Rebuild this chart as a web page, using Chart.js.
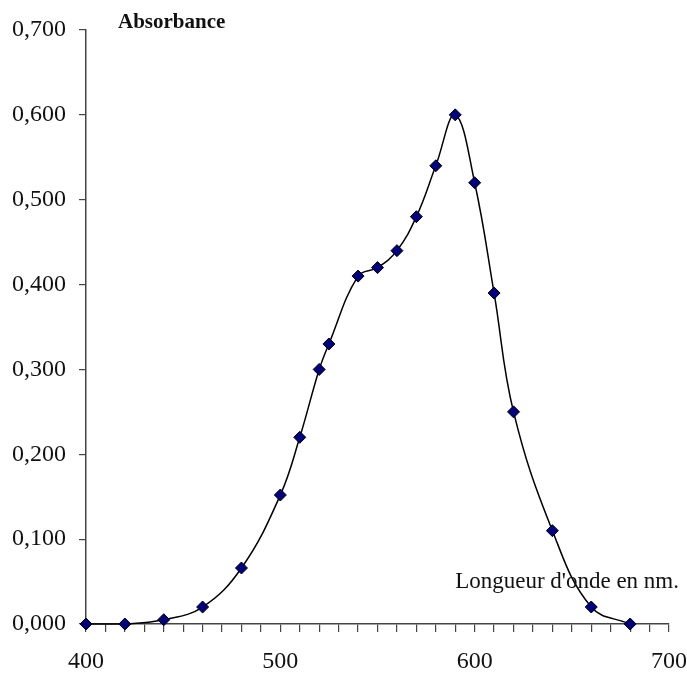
<!DOCTYPE html>
<html>
<head>
<meta charset="utf-8">
<script src="https://cdn.jsdelivr.net/npm/chart.js@4/dist/chart.umd.min.js"></script>
<style>
  html, body { margin: 0; padding: 0; background: #ffffff; }
  #wrap { position: relative; width: 687px; height: 676px; }
</style>
</head>
<body>
<div id="wrap"><canvas id="c" width="687" height="676"></canvas></div>
<script>
const wavelengths = [400, 420, 440, 460, 480, 500, 510, 520, 525, 540, 550, 560, 570, 580, 590, 600, 610, 620, 640, 660, 680];
const absorbance  = [0.000, 0.000, 0.005, 0.020, 0.066, 0.152, 0.220, 0.300, 0.330, 0.410, 0.420, 0.440, 0.480, 0.540, 0.600, 0.520, 0.390, 0.250, 0.110, 0.020, 0.000];
const xTickLabels = ['400', '500', '600', '700'];
const yTickLabels = ['0,000', '0,100', '0,200', '0,300', '0,400', '0,500', '0,600', '0,700'];
const yTitle = 'Absorbance';
const xTitle = "Longueur d'onde en nm.";

const points = wavelengths.map((w, i) => ({ x: w, y: absorbance[i] }));

const axisColor = '#444444';
const serif = '"Liberation Serif", "DejaVu Serif", serif';

const titlesPlugin = {
  id: 'axisTitles',
  afterDraw(chart) {
    const ctx = chart.ctx;
    const a = chart.chartArea;
    ctx.save();
    ctx.fillStyle = '#111111';
    ctx.textBaseline = 'alphabetic';
    ctx.font = 'bold 21px ' + serif;
    ctx.textAlign = 'left';
    ctx.fillText(yTitle, a.left + 32, a.top - 2);
    ctx.font = '23px ' + serif;
    ctx.textAlign = 'right';
    ctx.fillText(xTitle, a.right + 10, a.bottom - 36);
    ctx.restore();
  }
};

new Chart(document.getElementById('c'), {
  type: 'scatter',
  data: {
    datasets: [{
      data: points,
      showLine: true,
      tension: 0.4,
      borderColor: '#000000',
      borderWidth: 1.5,
      pointStyle: 'rectRot',
      pointRadius: 6,
      pointHoverRadius: 6,
      pointBackgroundColor: '#000080',
      pointBorderColor: '#000000',
      pointBorderWidth: 1,
      clip: false
    }]
  },
  options: {
    responsive: false,
    animation: false,
    events: [],
    layout: { padding: { top: 30, right: 18, left: 0, bottom: 0 } },
    plugins: { legend: { display: false }, tooltip: { enabled: false } },
    scales: {
      x: {
        type: 'linear',
        min: 400,
        max: 700,
        afterFit(s) { s.height = 52; s.paddingRight = 0; s.paddingLeft = 0; },
        border: { display: true, color: axisColor, width: 1.5 },
        grid: { drawOnChartArea: false, drawTicks: true, tickLength: 8, color: axisColor, lineWidth: 1.2 },
        ticks: {
          stepSize: 10,
          autoSkip: false,
          maxRotation: 0,
          padding: 15,
          color: '#111111',
          font: { family: serif, size: 24 },
          callback: (v) => {
            const i = xTickLabels.indexOf(String(v));
            return i >= 0 ? xTickLabels[i] : '';
          }
        }
      },
      y: {
        type: 'linear',
        min: 0,
        max: 0.7,
        afterFit(s) { s.width = 86; s.paddingTop = 0; s.paddingBottom = 0; },
        border: { display: true, color: axisColor, width: 1.5 },
        grid: { drawOnChartArea: false, drawTicks: true, tickLength: 7, color: axisColor, lineWidth: 1.2 },
        ticks: {
          stepSize: 0.1,
          padding: 13,
          color: '#111111',
          font: { family: serif, size: 24 },
          callback: (v) => {
            const i = Math.round(v * 10);
            return yTickLabels[i] !== undefined ? yTickLabels[i] : '';
          }
        }
      }
    }
  },
  plugins: [titlesPlugin]
});
</script>
</body>
</html>
